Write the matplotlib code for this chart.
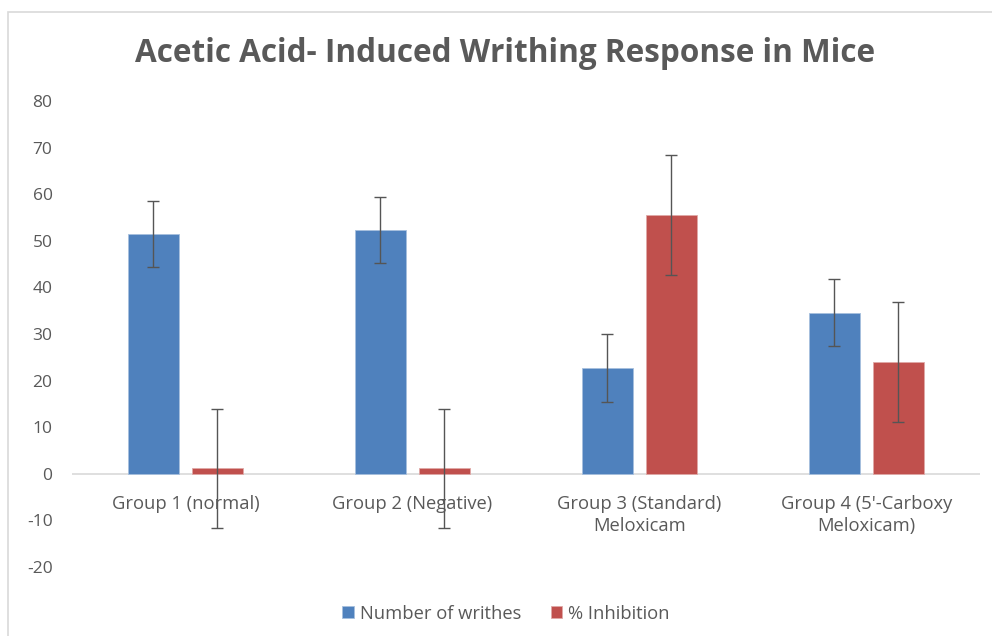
import matplotlib.pyplot as plt
import numpy as np
from matplotlib.patches import Rectangle

groups = ["Group 1 (normal)", "Group 2 (Negative)", "Group 3 (Standard)\nMeloxicam",
          "Group 4 (5'-Carboxy\nMeloxicam)"]
writhes = [51.4, 52.3, 22.7, 34.6]
writhes_err = [7.1, 7.1, 7.2, 7.2]
inhibition = [1.2, 1.2, 55.5, 24.0]
inhibition_err = [12.8, 12.8, 12.9, 12.9]

blue = "#4F81BD"
red = "#C0504D"
grey_text = "#595959"

plt.rcParams['font.family'] = ['Open Sans', 'DejaVu Sans']
plt.rcParams['axes.unicode_minus'] = False

fig = plt.figure(figsize=(9.92, 6.36), dpi=100)
# outer chart border like the spreadsheet chart frame
fig.patches.append(Rectangle((8 / 992, -0.01), 1.02, 1 - 12 / 636 + 0.01, transform=fig.transFigure,
                             fill=False, edgecolor="#D9D9D9", linewidth=1.2))

ax = fig.add_axes([0.0726, 0.1085, 0.915, 0.7327])

x = np.arange(len(groups))
w = 0.224
off = 0.141
ekw = dict(ecolor="#555555", elinewidth=1.0, capsize=4.5, capthick=1.0)
ax.bar(x - off, writhes, w, color=blue, edgecolor="#A7C0DE", linewidth=0.6,
       yerr=writhes_err, error_kw=ekw, label="Number of writhes", zorder=2)
ax.bar(x + off, inhibition, w, color=red, edgecolor="#E0A9A7", linewidth=0.6,
       yerr=inhibition_err, error_kw=ekw, label="% Inhibition", zorder=2)

ax.set_xlim(-0.5, len(groups) - 0.5)
ax.set_ylim(-20, 80)
ax.set_yticks(np.arange(-20, 81, 10))
ax.set_xticks([])
ax.tick_params(axis="y", length=0, labelsize=12.5, labelcolor=grey_text, pad=14)
for s in ax.spines.values():
    s.set_visible(False)
ax.axhline(0, color="#D9D9D9", linewidth=1.2, zorder=1)

for xi, g in zip(x, groups):
    ax.annotate(g, (xi, 0), xytext=(0, -15), textcoords="offset points",
                ha="center", va="top", fontsize=13.2, color=grey_text, linespacing=1.3)

fig.text(0.509, 0.916, "Acetic Acid- Induced Writhing Response in Mice", ha="center", va="center",
         fontsize=22.7, fontweight="bold", color=grey_text)

leg = fig.legend(loc="center", bbox_to_anchor=(0.51, 0.035), ncol=2, frameon=False,
                 fontsize=13.2, handlelength=0.65, handleheight=0.65, handletextpad=0.3,
                 columnspacing=1.6)
for t in leg.get_texts():
    t.set_color(grey_text)

fig.savefig("out.png", dpi=100)
